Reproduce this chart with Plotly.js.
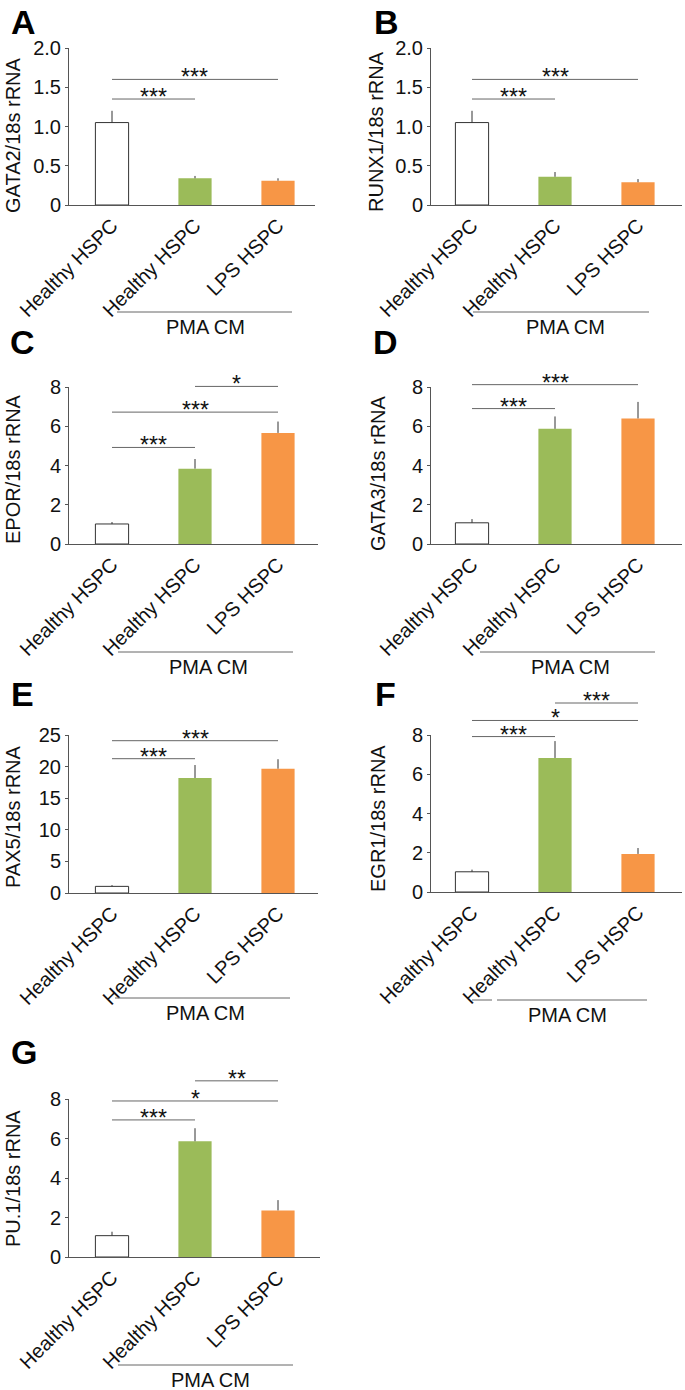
<!DOCTYPE html>
<html><head><meta charset="utf-8">
<script src="https://cdn.plot.ly/plotly-3.0.1.min.js"></script>
<style>html,body{margin:0;padding:0;background:#fff;}#chart{width:685px;height:1390px;}</style>
</head><body><div id="chart"></div>
<script>
// ---------- data ----------
const categories = ['Healthy HSPC', 'Healthy HSPC', 'LPS HSPC'];
const groupLabel = 'PMA CM';
const panelLetters = ['A', 'B', 'C', 'D', 'E', 'F', 'G'];
const yTitles = ['GATA2/18s rRNA', 'RUNX1/18s rRNA', 'EPOR/18s rRNA', 'GATA3/18s rRNA', 'PAX5/18s rRNA', 'EGR1/18s rRNA', 'PU.1/18s rRNA'];

const gata2 = [1.05, 0.34, 0.31];   const gata2Err = [0.15, 0.03, 0.03];
const runx1 = [1.05, 0.36, 0.29];   const runx1Err = [0.15, 0.06, 0.04];
const epor  = [1.02, 3.84, 5.66];   const eporErr  = [0.10, 0.49, 0.58];
const gata3 = [1.08, 5.87, 6.40];   const gata3Err = [0.19, 0.63, 0.84];
const pax5  = [1.05, 18.2, 19.67];  const pax5Err  = [0.20, 2.05, 1.50];
const egr1  = [1.03, 6.83, 1.94];   const egr1Err  = [0.11, 0.86, 0.30];
const pu1   = [1.08, 5.86, 2.36];   const pu1Err   = [0.20, 0.66, 0.52];

const ticks2  = [0, 0.5, 1, 1.5, 2];  const tickText2  = ['0', '0.5', '1.0', '1.5', '2.0'];
const ticks8  = [0, 2, 4, 6, 8];      const tickText8  = ['0', '2', '4', '6', '8'];
const ticks25 = [0, 5, 10, 15, 20, 25]; const tickText25 = ['0', '5', '10', '15', '20', '25'];

// significance brackets: [from category, to category, height, label]
const sigGata2 = [[0, 1, 1.35, '***'], [0, 2, 1.6, '***']];
const sigRunx1 = [[0, 1, 1.35, '***'], [0, 2, 1.6, '***']];
const sigEpor  = [[0, 1, 4.92, '***'], [0, 2, 6.72, '***'], [1, 2, 8.03, '*']];
const sigGata3 = [[0, 1, 6.9, '***'], [0, 2, 8.12, '***']];
const sigPax5  = [[0, 1, 21.25, '***'], [0, 2, 24.1, '***']];
const sigEgr1  = [[0, 1, 7.92, '***'], [0, 2, 8.74, '*'], [1, 2, 9.63, '***']];
const sigPu1   = [[0, 1, 6.94, '***'], [0, 2, 7.9, '*'], [1, 2, 8.92, '**']];

const barColors = ['#ffffff', '#9bbb59', '#f79646'];

// ---------- layout geometry (pixels) ----------
const W = 685, H = 1390, STEP = 83;
const panels = [
  {means: gata2, err: gata2Err, sig: sigGata2, yMax: 2,  tv: ticks2,  tt: tickText2,  L: 69,  R: 315, T: 48,   B: 205,  c0: 112, let: [23, 22],   tY: 135,  tX: 13,  pma: [[117, 292]], pmaY: 312,  pmaT: [205, 327]},
  {means: runx1, err: runx1Err, sig: sigRunx1, yMax: 2,  tv: ticks2,  tt: tickText2,  L: 431, R: 682, T: 48,   B: 205,  c0: 472, let: [386, 22],  tY: 132,  tX: 376, pma: [[473, 649]], pmaY: 312,  pmaT: [565, 327]},
  {means: epor,  err: eporErr,  sig: sigEpor,  yMax: 8,  tv: ticks8,  tt: tickText8,  L: 69,  R: 318, T: 387,  B: 544,  c0: 112, let: [22, 342],  tY: 469,  tX: 13,  pma: [[118, 293]], pmaY: 652,  pmaT: [208, 667]},
  {means: gata3, err: gata3Err, sig: sigGata3, yMax: 8,  tv: ticks8,  tt: tickText8,  L: 431, R: 682, T: 387,  B: 544,  c0: 472, let: [385, 342], tY: 473,  tX: 378, pma: [[480, 655]], pmaY: 652,  pmaT: [570, 667]},
  {means: pax5,  err: pax5Err,  sig: sigPax5,  yMax: 25, tv: ticks25, tt: tickText25, L: 69,  R: 318, T: 735,  B: 893,  c0: 112, let: [22, 694],  tY: 817,  tX: 13,  pma: [[115, 290]], pmaY: 998,  pmaT: [205, 1013]},
  {means: egr1,  err: egr1Err,  sig: sigEgr1,  yMax: 8,  tv: ticks8,  tt: tickText8,  L: 431, R: 682, T: 735,  B: 892,  c0: 472, let: [385, 694], tY: 819,  tX: 378, pma: [[472, 492], [497, 647]], pmaY: 1000, pmaT: [567, 1015]},
  {means: pu1,   err: pu1Err,   sig: sigPu1,   yMax: 8,  tv: ticks8,  tt: tickText8,  L: 69,  R: 320, T: 1099, B: 1257, c0: 112, let: [24, 1052], tY: 1179, tX: 13,  pma: [[118, 293]], pmaY: 1365, pmaT: [210, 1380]}
];

const FONT = 'Liberation Sans, Arial, Helvetica, sans-serif';
const AX = '#555555';
const px = x => x / W;
const py = y => 1 - y / H;

const traces = [], shapes = [], annotations = [];
const layout = {
  width: W, height: H, margin: {l: 0, r: 0, t: 0, b: 0},
  paper_bgcolor: '#ffffff', plot_bgcolor: '#ffffff', showlegend: false,
  font: {family: FONT, size: 20, color: '#111111'}
};

panels.forEach((p, i) => {
  const n = i + 1;
  const xid = n === 1 ? 'x' : 'x' + n, yid = n === 1 ? 'y' : 'y' + n;
  const xr0 = (p.L - p.c0) / STEP, xr1 = (p.R - p.c0) / STEP;
  traces.push({
    type: 'bar', x: [0, 1, 2], y: p.means, width: 0.4, xaxis: xid, yaxis: yid,
    marker: {color: barColors, line: {color: ['#333333', barColors[1], barColors[2]], width: [1, 0, 0]}},
    error_y: {type: 'data', symmetric: false, array: p.err, arrayminus: [0, 0, 0], color: '#333333', thickness: 1, width: 0},
    hoverinfo: 'skip'
  });
  layout['xaxis' + (n === 1 ? '' : n)] = {
    domain: [px(p.L), px(p.R)], anchor: yid, range: [xr0, xr1],
    tickvals: [0, 1, 2], ticktext: categories, tickangle: -45,
    showline: true, linecolor: AX, linewidth: 1, ticks: '', showgrid: false, zeroline: false,
    tickfont: {family: FONT, size: 20, color: '#111111'}, fixedrange: true
  };
  layout['yaxis' + (n === 1 ? '' : n)] = {
    domain: [py(p.B), py(p.T)], anchor: xid, range: [0, p.yMax],
    tickvals: p.tv, ticktext: p.tt,
    showline: true, linecolor: AX, linewidth: 1, ticks: 'outside', ticklen: 3, tickcolor: AX,
    showgrid: false, zeroline: false, tickfont: {family: FONT, size: 20, color: '#111111'}, fixedrange: true
  };
  const xd = xid + ' domain', yd = yid + ' domain';
  const fx = c => (c - xr0) / (xr1 - xr0);
  p.sig.forEach(s => {
    const yy = s[2] / p.yMax;
    shapes.push({type: 'line', xref: xd, yref: yd, x0: fx(s[0]), x1: fx(s[1]), y0: yy, y1: yy, line: {color: '#666666', width: 1}});
    annotations.push({xref: xd, yref: yd, x: (fx(s[0]) + fx(s[1])) / 2, y: yy, text: s[3], showarrow: false,
      xanchor: 'center', yanchor: 'bottom', yshift: -13, font: {family: FONT, size: 23, color: '#111111'}});
  });
  // group line + label
  p.pma.forEach(seg => {
    shapes.push({type: 'line', xref: 'paper', yref: 'paper', x0: px(seg[0]), x1: px(seg[1]), y0: py(p.pmaY), y1: py(p.pmaY), line: {color: '#666666', width: 1}});
  });
  annotations.push({xref: 'paper', yref: 'paper', x: px(p.pmaT[0]), y: py(p.pmaT[1]), text: groupLabel, showarrow: false,
    xanchor: 'center', yanchor: 'middle', font: {family: FONT, size: 20, color: '#111111'}});
  // y title
  annotations.push({xref: 'paper', yref: 'paper', x: px(p.tX), y: py(p.tY), text: yTitles[i], textangle: -90, showarrow: false,
    xanchor: 'center', yanchor: 'middle', font: {family: FONT, size: 20, color: '#111111'}});
  // panel letter
  annotations.push({xref: 'paper', yref: 'paper', x: px(p.let[0]), y: py(p.let[1]), text: '<b>' + panelLetters[i] + '</b>', showarrow: false,
    xanchor: 'center', yanchor: 'middle', font: {family: FONT, size: 34, color: '#000000'}});
});

layout.shapes = shapes;
layout.annotations = annotations;
Plotly.newPlot('chart', traces, layout, {staticPlot: true, displayModeBar: false});
</script>
</body></html>
